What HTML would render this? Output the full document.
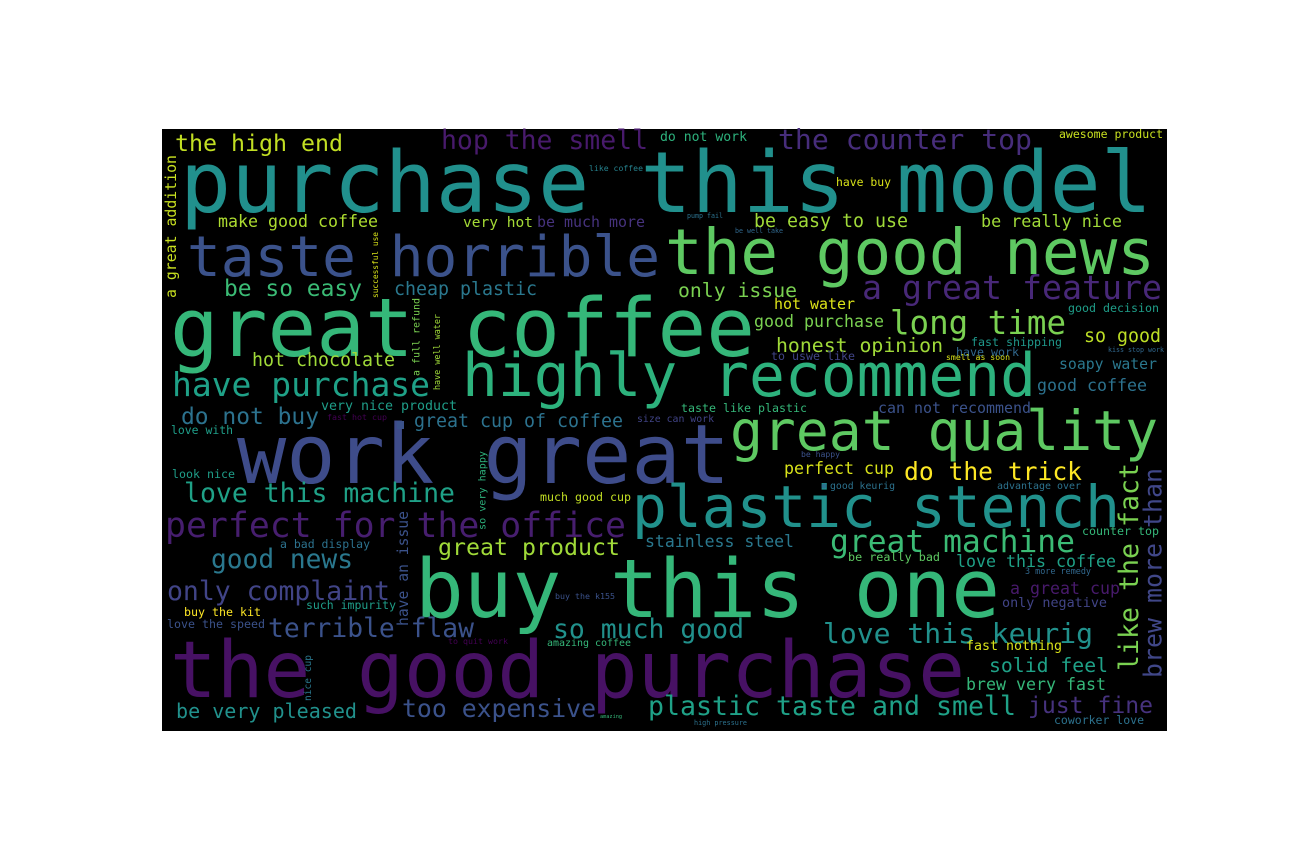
<!DOCTYPE html>
<html><head><meta charset="utf-8"><style>
html,body{margin:0;padding:0;background:#fff;width:1296px;height:864px;overflow:hidden}
svg{display:block}
text{font-family:"DejaVu Sans Mono","Liberation Mono",monospace}
</style></head><body>
<svg id="cloud" width="1296" height="864" viewBox="0 0 1296 864">
<rect x="162" y="129" width="1005" height="602" fill="#000"/>
<g id="words"></g>
</svg>
<script>
// phrases, weights (font size), colours
const phrases=["purchase this model","taste horrible","the good news","great coffee","highly recommend","work great","great quality","plastic stench","buy this one","the good purchase","a great feature","long time","the counter top","hop the smell","the high end","make good coffee","very hot","be much more","be easy to use","be really nice","have buy","awesome product","do not work","like coffee","pump fail","be well take","a great addition","successful use","be so easy","cheap plastic","only issue","hot water","good purchase","honest opinion","so good","good decision","fast shipping","have work","to uswe like","smell as soon","kiss stop work","soapy water","good coffee","can not recommend","taste like plastic","size can work","hot chocolate","have purchase","a full refund","have well water","very nice product","do not buy","fast hot cup","great cup of coffee","love with","look nice","love this machine","perfect for the office","so very happy","much good cup","a bad display","great product","good news","have an issue","only complaint","such impurity","buy the kit","love the speed","terrible flaw","to quit work","buy the k155","so much good","amazing coffee","nice cup","be very pleased","too expensive","amazing","stainless steel","great machine","be really bad","love this coffee","3 more remedy","a great cup","only negative","perfect cup","do the trick","be happy","good keurig","advantage over","counter top","love this keurig","fast nothing","solid feel","brew very fast","plastic taste and smell","just fine","coworker love","high pressure","like the fact","brew more than"];
const weights=[85,56,63,81,60,82,55,58,81,78,33,33,28,26.5,23,16.7,14.6,15,18.3,16.8,11.5,11.6,13,8.2,6.7,6.7,15,7.9,23,18.3,19.8,15,16.7,19.9,18.3,11.7,11.7,11.7,11.7,8.2,6.7,14.9,16.7,15,11.7,9.9,18.3,33,10,8.4,13.3,23,8.3,18.3,11.5,11.7,26.6,35,10,11.7,11.5,23.3,26.3,14.7,26.5,11.5,11.7,11.7,26.4,8.3,8.3,26.5,10,9.6,20,24.9,5,16.6,31.4,11.8,16.7,8.5,16.7,13.5,16.7,24.7,8.1,9.8,10,11.7,28,13.3,19.8,16.7,26.7,23,11.5,6.8,26.7,25];
const colors=["#21908d","#3b528b","#5ec962","#35b779","#2db27d","#3e4c8a","#5ec962","#21918c","#35b779","#471164","#482878","#7ad151","#472d7b","#481a6c","#c2df23","#addc30","#a5db36","#46327e","#a0da39","#a0da39","#d8e219","#c8e020","#2db27d","#26828e","#2c728e","#31688e","#c8e020","#d8e219","#3bbb75","#2a788e","#7ad151","#dde318","#7ad151","#a0da39","#bddf26","#1f9e89","#1f988b","#31688e","#414487","#d8e219","#31688e","#2a788e","#2c728e","#3b528b","#35b779","#414487","#a0da39","#1fa187","#7ad151","#a0da39","#1f9e89","#2c728e","#440154","#2c728e","#1f9e89","#1f9e89","#1fa187","#471e6f","#2db27d","#c2df23","#2c728e","#a0da39","#2a788e","#3b528b","#414487","#1f9e89","#fde725","#3b528b","#3b528b","#440154","#3b528b","#21918c","#35b779","#2a788e","#21918c","#3b528b","#35b779","#2a788e","#3bbb75","#5ec962","#1fa187","#31688e","#481a6c","#414487","#d8e219","#fde725","#3b528b","#2c728e","#2c728e","#35b779","#21918c","#d8e219","#1fa187","#35b779","#1fa187","#46327e","#2c728e","#2c728e","#7ad151","#404788"];
// layout: [x, y(baseline or start), span length, vertical]
const layout=[[180,212,972,0],[187,276,473,0],[665,274,490,0],[170,356,585,0],[462,396,574,0],[237,483,493,0],[730,450,428,0],[632,527,488,0],[415,617,585,0],[170,697,795,0],[862,299,300,0],[890,334,176,0],[778,149,254,0],[441,149,207,0],[175,151,168,0],[218,227,160,0],[463,227,70,0],[537,227,108,0],[754,227,154,0],[981,227,141,0],[836,186,55,0],[1059,138,104,0],[660,141,87,0],[589,171,54,0],[687,218,36,0],[735,233,48,0],[165,298,143,1],[372,298,66,1],[224,296,138,0],[394,295,143,0],[678,297,119,0],[774,309,81,0],[754,327,130,0],[776,352,167,0],[1084,342,77,0],[1068,312,91,0],[971,346,91,0],[956,356,63,0],[771,360,84,0],[946,360,64,0],[1108,352,56,0],[1059,369,98,0],[1037,391,110,0],[878,413,153,0],[681,412,126,0],[637,422,77,0],[252,366,143,0],[172,396,258,0],[412,376,78,1],[434,390,76,1],[321,410,136,0],[181,424,138,0],[327,420,60,0],[414,427,209,0],[171,434,62,0],[172,478,63,0],[184,502,271,0],[165,537,461,0],[478,530,79,1],[540,501,91,0],[280,548,90,0],[438,555,182,0],[211,568,142,0],[397,626,115,1],[167,600,223,0],[306,609,90,0],[184,616,77,0],[167,628,98,0],[268,637,206,0],[448,644,60,0],[555,599,60,0],[553,638,191,0],[547,646,84,0],[304,701,46,1],[176,718,181,0],[402,717,194,0],[600,718,22,0],[645,547,149,0],[830,552,245,0],[848,561,92,0],[956,567,160,0],[1025,574,66,0],[1010,594,110,0],[1002,607,105,0],[784,474,110,0],[904,480,178,0],[801,457,39,0],[830,489,65,0],[997,489,84,0],[1082,535,77,0],[823,643,270,0],[966,650,96,0],[989,672,119,0],[966,690,140,0],[648,715,368,0],[1028,713,125,0],[1054,724,90,0],[694,725,53,0],[1118,671,208,1],[1143,678,210,1]];
const g=document.getElementById('words');
const NS='http://www.w3.org/2000/svg';
phrases.forEach((w,i)=>{
  const fs=weights[i];
  const L=layout[i];
  const t=document.createElementNS(NS,'text');
  
  
  t.setAttribute('font-size', fs);
  t.setAttribute('fill', colors[i]);
  t.setAttribute('textLength', L[2]);
  t.setAttribute('lengthAdjust','spacingAndGlyphs');
  if(L[3]){
    const bx=L[0]+0.74*fs;
    t.setAttribute('x', bx); t.setAttribute('y', L[1]);
    t.setAttribute('transform','rotate(-90 '+bx+' '+L[1]+')');
  } else {
    t.setAttribute('x', L[0]); t.setAttribute('y', L[1]);
  }
  t.textContent=w;
  g.appendChild(t);
});
const dot=document.createElementNS(NS,'circle');


dot.setAttribute('cx',824);dot.setAttribute('cy',486);dot.setAttribute('r',2.5);dot.setAttribute('fill','#2c728e');
g.appendChild(dot);
const sq=document.createElementNS(NS,'rect');


sq.setAttribute('x',397);sq.setAttribute('y',421);sq.setAttribute('width',7);sq.setAttribute('height',8);sq.setAttribute('fill','#3b528b');
g.appendChild(sq);
</script>
</body></html>
